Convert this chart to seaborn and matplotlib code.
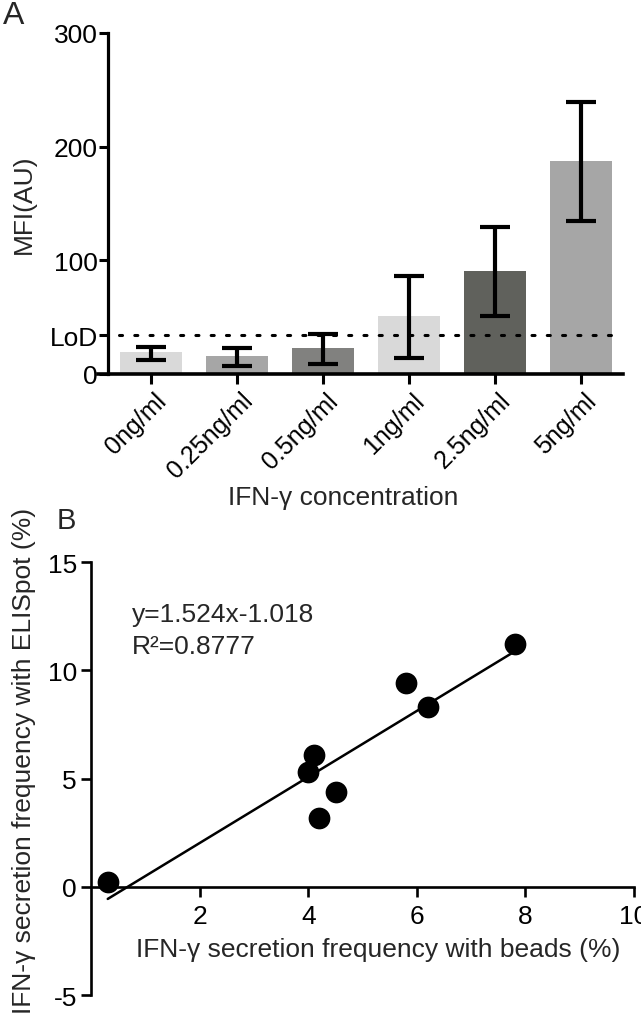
import numpy as np
import pandas as pd
import matplotlib
matplotlib.use('Agg')
import matplotlib.pyplot as plt
import matplotlib.transforms as mtransforms
import seaborn as sns

# ---- Panel A data ----
categories = ['0ng/ml', '0.25ng/ml', '0.5ng/ml', '1ng/ml', '2.5ng/ml', '5ng/ml']
mfi_mean = [19, 16, 23, 51, 91, 187]
err_low = [12, 7, 9, 14, 51, 135]
err_high = [24, 23, 35, 86, 129, 239]
bar_colors = ['#d9d9d9', '#a6a6a6', '#81817f', '#d9d9d9', '#60615c', '#a6a6a6']
lod_value = 34
a_yticks = [0, 34, 100, 200, 300]
a_yticklabels = ['0', 'LoD', '100', '200', '300']

# ---- Panel B data ----
beads = [0.3, 4.0, 4.1, 4.2, 4.5, 5.8, 6.2, 7.8]
elispot = [0.2, 5.3, 6.1, 3.2, 4.4, 9.4, 8.3, 11.2]
slope = 1.524
intercept = -1.018
r2 = 0.8777
b_xticks = [2, 4, 6, 8, 10]
b_yticks = [-5, 0, 5, 10, 15]

sns.set_style('ticks')
plt.rcParams['font.family'] = ['Liberation Sans', 'DejaVu Sans']
plt.rcParams['axes.unicode_minus'] = False

fig = plt.figure(figsize=(6.41, 10.20), dpi=100)

# ================= Panel A =================
axA = fig.add_axes([0.1529, 0.6324, 0.819, 0.3343])
df = pd.DataFrame({'conc': categories, 'mfi': mfi_mean})
sns.barplot(data=df, x='conc', y='mfi', hue='conc', palette=bar_colors,
            saturation=1, width=0.72, linewidth=0, legend=False, ax=axA,
            errorbar=None)
mean = np.array(mfi_mean, dtype=float)
lo = mean - np.array(err_low, dtype=float)
hi = np.array(err_high, dtype=float) - mean
axA.errorbar(np.arange(len(categories)), mean, yerr=[lo, hi], fmt='none',
             ecolor='black', elinewidth=3, capsize=10.5, capthick=3, zorder=5)

xl = (-0.62, 5.49)
axA.set_xlim(*xl)
axA.set_ylim(0, 300)
axA.spines['left'].set_position(('data', -0.5))
for s in ['top', 'right']:
    axA.spines[s].set_visible(False)
axA.spines['left'].set_linewidth(2.3)
axA.spines['bottom'].set_linewidth(2.6)
axA.spines['left'].set_color('black')
axA.spines['bottom'].set_color('black')

axA.axhline(lod_value, xmin=(-0.5 - xl[0]) / (xl[1] - xl[0]) + 0.02, xmax=1,
            color='black', lw=2.2, ls=(0, (1, 4)), dash_capstyle='round')

axA.set_yticks(a_yticks)
axA.set_yticklabels(a_yticklabels)
axA.tick_params(axis='y', direction='out', length=6.5, width=2.2, pad=1,
                labelsize=19, colors='black')
axA.tick_params(axis='x', direction='out', length=7, width=2.2, pad=3,
                labelsize=18, colors='black')
axA.set_xticks(range(len(categories)))
axA.set_xticklabels(categories, rotation=45, ha='right')
off = mtransforms.ScaledTranslation(0.2, 0, fig.dpi_scale_trans)
for lab in axA.get_xticklabels():
    lab.set_transform(lab.get_transform() + off)

axA.set_ylabel('MFI(AU)', fontsize=19)
axA.yaxis.set_label_coords(-0.118, 0.5)
axA.set_xlabel('IFN-γ concentration', fontsize=19)
axA.xaxis.set_label_coords(0.467, -0.325)

# ================= Panel B =================
axB = fig.add_axes([0.1427, 0.0235, 0.8463, 0.4245])
xs = np.array([min(beads), max(beads)])
sns.lineplot(x=xs, y=slope * xs + intercept, color='black', lw=1.8, ax=axB)
sns.scatterplot(x=beads, y=elispot, s=210, color='black', edgecolor='black',
                ax=axB, zorder=5)
axB.set_xlim(0, 10)
axB.set_ylim(-5, 15)
axB.spines['bottom'].set_position(('data', 0))
for s in ['top', 'right']:
    axB.spines[s].set_visible(False)
for s in ['left', 'bottom']:
    axB.spines[s].set_linewidth(1.9)
    axB.spines[s].set_color('black')
axB.set_xticks(b_xticks)
axB.set_yticks(b_yticks)
axB.tick_params(axis='both', direction='out', length=7.5, width=1.9,
                labelsize=19, colors='black')
axB.tick_params(axis='x', pad=5)
axB.tick_params(axis='y', pad=3)

axB.set_xlabel('IFN-γ secretion frequency with beads (%)', fontsize=19)
axB.xaxis.set_label_coords(0.528, 0.134)
axB.set_ylabel('IFN-γ secretion frequency with ELISpot (%)', fontsize=19)
axB.yaxis.set_label_coords(-0.102, 0.543)

axB.text(0.075, 0.88, f'y={slope:.3f}x{intercept:+.3f}', transform=axB.transAxes,
         fontsize=19, va='center', ha='left')
axB.text(0.075, 0.806, f'R²={r2}', transform=axB.transAxes,
         fontsize=19, va='center', ha='left')

fig.text(0.004, 0.999, 'A', fontsize=23, va='top', ha='left')
fig.text(57 / 641, 1 - 507 / 1020, 'B', fontsize=21, va='top', ha='left')

fig.savefig('out.png', dpi=100)
